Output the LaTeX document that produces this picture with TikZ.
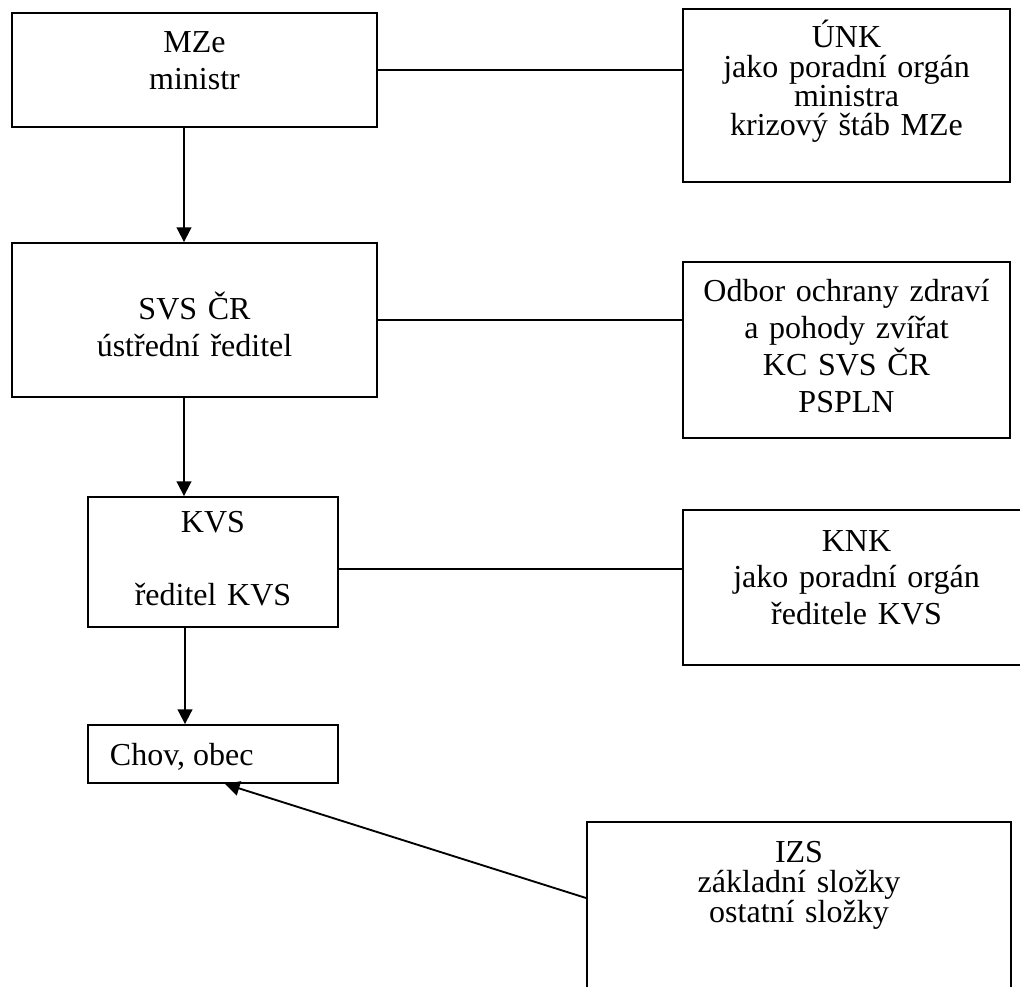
\documentclass[tikz,border=0pt]{standalone}
\usepackage{fontspec}
\setmainfont{Liberation Serif}
\usetikzlibrary{arrows.meta,calc,positioning}
\tikzset{%
	block/.style    = {draw, rectangle, inner sep=0pt}, % Box
	boxtext/.style  = {inner sep=0pt, text width=150pt, align=center, anchor=base}, % Text in box
	spaced/.style   = {font=\fontsize{12pt}{13.8pt}\selectfont}, % Single spacing
	packed/.style   = {font=\fontsize{12pt}{10.9pt}\selectfont}, % Exact spacing
}
\begin{document}
\begin{tikzpicture}[x=0.375pt, y=-0.375pt, line width=0.7pt, >={Triangle[length=5.5pt,width=5.5pt]}]
		\useasboundingbox (0,0) rectangle (1020,987);
		% boxes
		\node[block, minimum width=136.9pt, minimum height=42.75pt] (mze) at (194.5,70) {};
		\node[block, minimum width=122.6pt, minimum height=64.9pt] (unk) at (846.5,95.5) {};
		\node[block, minimum width=136.9pt, minimum height=57.75pt] (svs) at (194.5,320) {};
		\node[block, minimum width=122.6pt, minimum height=66pt] (odbor) at (846.5,350) {};
		\node[block, minimum width=93.75pt, minimum height=48.75pt] (kvs) at (213,562) {};
		\node[block, minimum width=130.1pt, minimum height=58.1pt] (knk) at (856.5,587.5) {};
		\node[block, minimum width=93.75pt, minimum height=21.75pt] (chov) at (213,754) {};
		\node[block, minimum width=159pt, minimum height=66.75pt] (izs) at (799,911) {};
		% texts
		\node[boxtext, spaced] (mze-t) at (194.5,53) {MZe\\ministr};
		\node[boxtext, packed] (unk-t) at (846.5,48) {ÚNK\\jako poradní orgán\\ministra\\krizový štáb MZe};
		\node[boxtext, spaced] (svs-t) at (194.5,320) {SVS ČR\\ústřední ředitel};
		\node[boxtext, spaced] (odbor-t) at (846.5,302) {Odbor ochrany zdraví\\a pohody zvířat\\KC SVS ČR\\PSPLN};
		\node[boxtext, spaced] (kvs-t) at (213,532) {KVS\\[13.8pt]ředitel KVS};
		\node[boxtext, spaced] (knk-t) at (856.5,551) {KNK\\jako poradní orgán\\ředitele KVS};
		\node[spaced, inner sep=0pt, anchor=base west] (chov-t) at (109,765) {Chov, obec};
		\node[boxtext, font=\fontsize{12pt}{11.4pt}\selectfont] (izs-t) at (799,862) {IZS\\základní složky\\ostatní složky};
		% connectors
		\coordinate (kvsout) at ($(kvs.east)+(0,7)$);
		\draw (mze.east) -- (mze.east -| unk.west);
		\draw (svs.east) -- (svs.east -| odbor.west);
		\draw (kvsout) -- (kvsout -| knk.west);
		\draw[->] ($(mze.south)+(-10.5,0)$) -- ($(svs.north)+(-10.5,0)$);
		\draw[->] ($(svs.south)+(-10.5,0)$) -- ($(kvs.north)+(-29,0)$);
		\draw[->] ($(kvs.south)+(-28,0)$) -- ($(chov.north)+(-28,0)$);
		\draw[->] ($(izs.west)+(0,-13)$) -- ($(chov.south)+(12,0)$);
		\end{tikzpicture}
\end{document}
